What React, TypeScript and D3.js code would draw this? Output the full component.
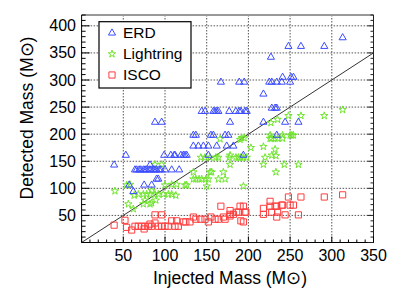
import React from 'react'
import * as d3 from 'd3'

// detected vs injected mass
const erd: [number, number][] = [
  [313, 379], [248, 363], [263, 363], [291, 363], [227, 343],
  [241, 306], [251, 306], [254, 306],
  [167, 297], [189, 297], [195, 297], [225, 297], [228, 297], [234, 297], [240, 297], [250, 297],
  [218, 275], [228, 249], [232, 249], [234, 249],
  [144, 243], [148, 243], [158, 243], [160, 243], [162, 243], [164, 243], [177, 243], [185, 243], [189, 243], [191, 243], [196, 243], [198, 243],
  [88, 223], [96, 223], [178, 223], [218, 223], [244, 223], [260, 223],
  [134, 199], [137, 199], [155, 199], [158, 199], [172, 199], [176, 199], [234, 199],
  [134, 179], [140, 179], [146, 179], [152, 179], [162, 179], [174, 179], [182, 179],
  [53, 162], [99, 162], [107, 162], [111, 162], [112, 162], [119, 162], [122, 162], [124, 162], [126, 162], [152, 162], [194, 162],
  [39, 144], [82, 144],
  [64, 135], [66, 135], [69, 135], [71, 135], [74, 135], [76, 135], [78, 135], [81, 135], [83, 135], [86, 135], [88, 135], [90, 135], [93, 135], [95, 135], [100, 135], [108, 135], [117, 135],
  [90, 118], [92, 118], [57, 107], [75, 107], [84, 107], [62, 95],
]

const lightring: [number, number][] = [
  [313, 245], [248, 234], [263, 234], [291, 234], [227, 221], [235, 227],
  [226, 198], [241, 198], [250, 198], [252, 198], [254, 198],
  [166, 191], [190, 190], [192, 193], [195, 193], [226, 192], [228, 192], [232, 192], [235, 192], [241, 192],
  [203, 175], [218, 177], [232, 172],
  [143, 157], [148, 157], [154, 157], [161, 157], [164, 157], [177, 157], [185, 157], [188, 157], [191, 157], [194, 157], [198, 157], [220, 157], [228, 161], [233, 160], [178, 161],
  [88, 144], [96, 144], [178, 144], [218, 144], [243, 144], [260, 144],
  [134, 130], [154, 130], [156, 130], [170, 130], [233, 130],
  [134, 117], [137, 117], [141, 117], [144, 117], [149, 117], [152, 117], [164, 117], [172, 117],
  [54, 106], [58, 107], [100, 106], [108, 107], [114, 107], [124, 106], [126, 106], [150, 104], [194, 104],
  [40, 95], [84, 96],
  [63, 87], [68, 89], [74, 89], [78, 89], [82, 89], [88, 89], [92, 89], [98, 89], [104, 89], [108, 89], [113, 87],
  [76, 78], [84, 73], [89, 78], [56, 71], [74, 71], [82, 71], [62, 62],
]

const isco: [number, number][] = [
  [39, 32], [52, 41], [54, 28], [60, 23], [64, 30], [68, 30], [72, 30], [75, 25], [76, 30], [80, 30], [82, 34], [84, 30],
  [88, 51], [88, 36], [92, 30], [96, 51], [96, 30], [100, 30], [104, 30], [108, 40], [112, 30], [114, 40], [116, 30],
  [122, 38], [125, 38], [130, 38], [134, 47], [137, 43], [143, 43], [148, 43], [152, 38], [155, 47], [160, 43], [164, 43],
  [167, 67], [170, 47], [172, 43], [178, 59], [178, 52], [178, 49], [182, 52], [186, 56], [188, 56], [190, 67], [191, 40],
  [194, 67], [194, 38], [196, 56], [197, 56], [218, 63], [218, 52], [226, 76], [226, 67], [228, 56], [232, 67], [234, 67],
  [234, 47], [235, 56], [240, 69], [241, 69], [244, 51], [248, 84], [250, 69], [254, 69], [260, 51], [263, 84], [291, 84], [313, 88],
]

const xTicks = [50, 100, 150, 200, 250, 300, 350]
const yTicks = [50, 100, 150, 200, 250, 300, 350, 400]
const legendNames = ['ERD', 'Lightring', 'ISCO']

const blue = '#3b4cff'
const green = '#6fe52c'
const red = '#ff3d3d'
const font = '"Liberation Sans", Arial, sans-serif'

export default function App() {
  const left = 81.6, right = 373.5, top = 15, bottom = 242.5
  const x = d3.scaleLinear().domain([0, 350]).range([left, right])
  const y = d3.scaleLinear().domain([0, 420]).range([bottom, top])

  const tri = d3.symbol(d3.symbolTriangle, 22)()!
  const star = d3.symbol(d3.symbolStar, 17)()!
  const sq = d3.symbol(d3.symbolSquare, 38)()!

  const xMinor = d3.range(0, 351, 10)
  const yMinor = d3.range(0, 421, 10)

  const markers = (data: [number, number][], path: string, color: string, dy = 0) =>
    data.map((d, i) => (
      <path key={i} d={path} transform={`translate(${x(d[0])},${y(d[1]) + dy})`}
        fill="none" stroke={color} strokeWidth={1} />
    ))

  return (
    <svg width={407} height={296} style={{ position: 'absolute', left: 0, top: 0, background: '#fff' }}>
      {/* grid */}
      {xTicks.slice(0, -1).map(t => (
        <line key={'gx' + t} x1={x(t)} x2={x(t)} y1={top} y2={bottom} stroke="#555" strokeDasharray="1.5,1.5" />
      ))}
      {yTicks.map(t => (
        <line key={'gy' + t} x1={left} x2={right} y1={y(t)} y2={y(t)} stroke="#555" strokeDasharray="1.5,1.5" />
      ))}

      {/* y = x */}
      <line x1={x(0)} y1={y(0)} x2={x(350)} y2={y(350)} stroke="#333" strokeWidth={1} />

      {markers(isco, sq, red)}
      {markers(lightring, star, green)}
      {markers(erd, tri, blue, 0.5)}

      {/* frame */}
      <line x1={left} x2={right} y1={top} y2={top} stroke="#999" strokeWidth={2} />
      <line x1={right} x2={right} y1={top} y2={bottom} stroke="#222" strokeWidth={1} />
      <line x1={left} x2={left} y1={top} y2={bottom} stroke="#000" strokeWidth={1} />
      <line x1={left} x2={right} y1={bottom} y2={bottom} stroke="#000" strokeWidth={1} />
      {yMinor.map(t => (
        <g key={'ty' + t}>
          <line x1={left} x2={left + (t % 50 === 0 ? 8 : 4)} y1={y(t)} y2={y(t)} stroke="#000" />
          <line x1={right} x2={right - (t % 50 === 0 ? 6 : 3)} y1={y(t)} y2={y(t)} stroke="#222" />
        </g>
      ))}
      {xMinor.map(t => (
        <line key={'tx' + t} x1={x(t)} x2={x(t)} y1={bottom} y2={bottom - (t % 50 === 0 ? 6 : 3)} stroke="#000" />
      ))}

      {/* tick labels */}
      {xTicks.map(t => (
        <text key={'lx' + t} x={x(t)} y={261} textAnchor="middle" fontFamily={font} fontSize={16}>{t}</text>
      ))}
      {yTicks.map(t => (
        <text key={'ly' + t} x={76} y={y(t) + 5.5} textAnchor="end" fontFamily={font} fontSize={16}>{t}</text>
      ))}

      {/* axis titles */}
      <text x={230} y={284} textAnchor="middle" fontFamily={font} fontSize={17.5}>Injected Mass (M⊙)</text>
      <text transform="translate(33,118) rotate(-90)" textAnchor="middle" fontFamily={font} fontSize={17.5}>Detected Mass (M⊙)</text>

      {/* legend */}
      <rect x={99} y={21.7} width={92} height={66.3} fill="#fff" stroke="#000" strokeWidth={1.2} />
      {legendNames.map((n, i) => {
        const cy = 33 + i * 21
        const path = [tri, star, sq][i]
        const col = [blue, green, red][i]
        return (
          <g key={n}>
            <path d={path} transform={`translate(112,${cy})`} fill="none" stroke={col} />
            <text x={123} y={cy + 5} fontFamily={font} fontSize={15.5}>{n}</text>
          </g>
        )
      })}
    </svg>
  )
}
